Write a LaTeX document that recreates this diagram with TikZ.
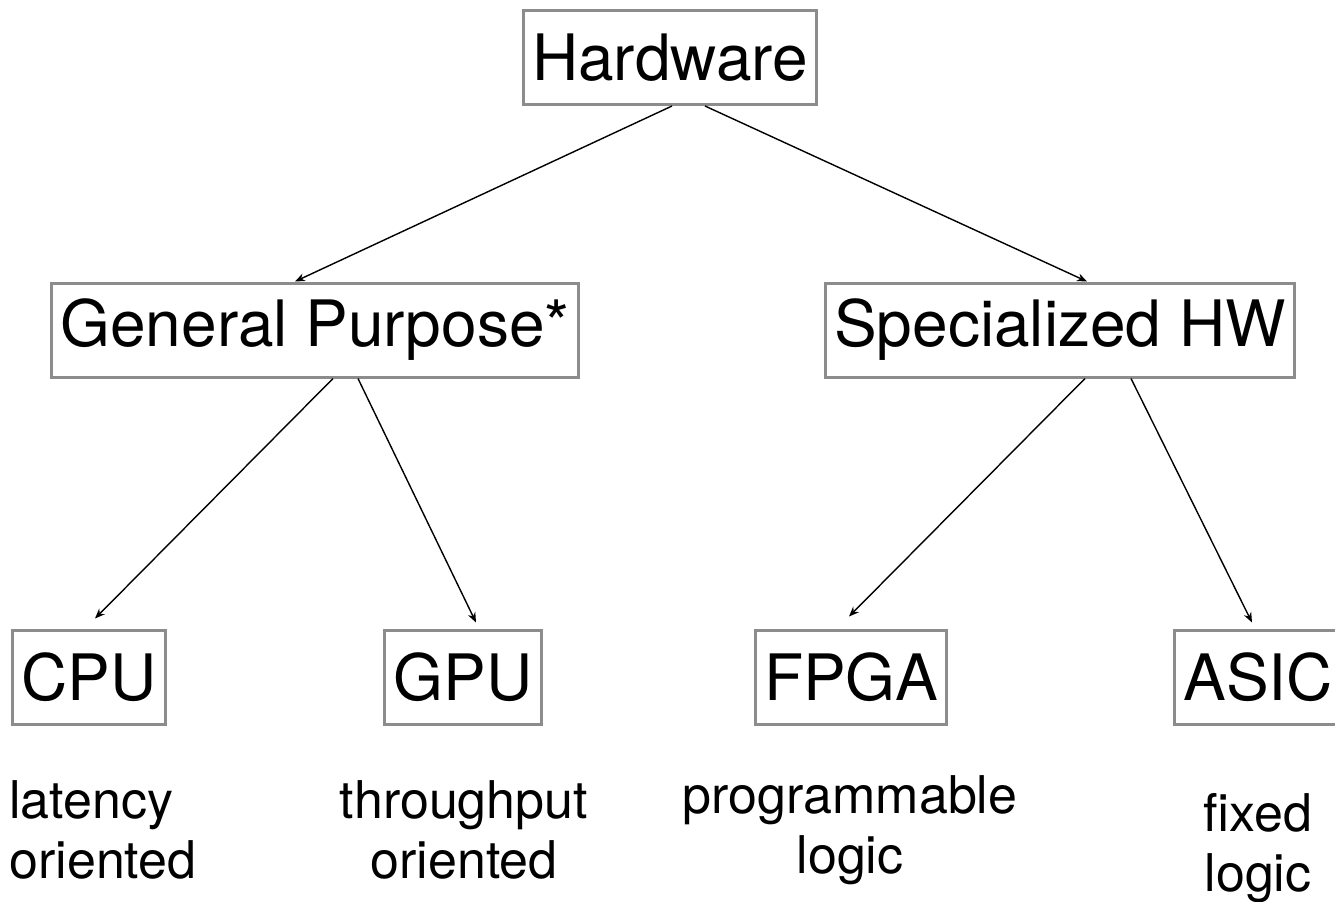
\documentclass[tikz,border=0pt]{standalone}
\usepackage{fontspec}
\setmainfont{TeX Gyre Heros}
\usepackage{tikz}
\usetikzlibrary{arrows.meta, positioning, calc}

\definecolor{boxgray}{RGB}{140,140,140}

\tikzset{
    hwbox/.style={draw=boxgray, line width=1.5pt, minimum height=47pt, inner xsep=4.5pt,
        font=\fontsize{32}{38}\selectfont},
    note/.style={font=\fontsize{26}{30}\selectfont, inner sep=0pt},
    arr/.style={-{Stealth[length=5pt,width=4pt]}, line width=0.7pt}
}

\begin{document}
\begin{tikzpicture}[x=0.5pt,y=-0.5pt]
        \useasboundingbox (0,0) rectangle (1335,901);

        %Boxes
        \node[hwbox] (hw) at (670,57.5) {Hardware};
        \node[hwbox] (gp) at (315,330) {General Purpose*};
        \node[hwbox] (spec) at (1060,330) {Specialized HW};
        \node[hwbox] (cpu) at (89,677) {CPU};
        \node[hwbox] (gpu) at (463,677) {GPU};
        \node[hwbox] (fpga) at (851,677) {FPGA};
        \node[hwbox] (asic) at (1258,677) {ASIC};

        %Notes under the boxes
        \node[note, align=left, anchor=west] (cpunote) at (9,830) {latency\\oriented};
        \node[note, align=center] (gpunote) at (464,830) {throughput\\oriented};
        \node[note, align=center] (fpganote) at (850,830) {programmable\\logic};
        \node[note, align=center] (asicnote) at (1258,848) {fixed\\logic};

        %Arrows
        \draw[arr] ([xshift=1pt]hw.south) -- ([xshift=-10pt]gp.north);
        \draw[arr] ([xshift=17.5pt]hw.south) -- ([xshift=13.5pt]spec.north);
        \draw[arr] ([xshift=9pt]gp.south) -- ([xshift=3pt,yshift=5pt]cpu.north);
        \draw[arr] ([xshift=21.5pt]gp.south) -- ([xshift=6.5pt,yshift=3pt]gpu.north);
        \draw[arr] ([xshift=12.5pt]spec.south) -- ([xshift=-1pt,yshift=6pt]fpga.north);
        \draw[arr] ([xshift=35.5pt]spec.south) -- ([xshift=-3pt,yshift=3pt]asic.north);

    \end{tikzpicture}
\end{document}
